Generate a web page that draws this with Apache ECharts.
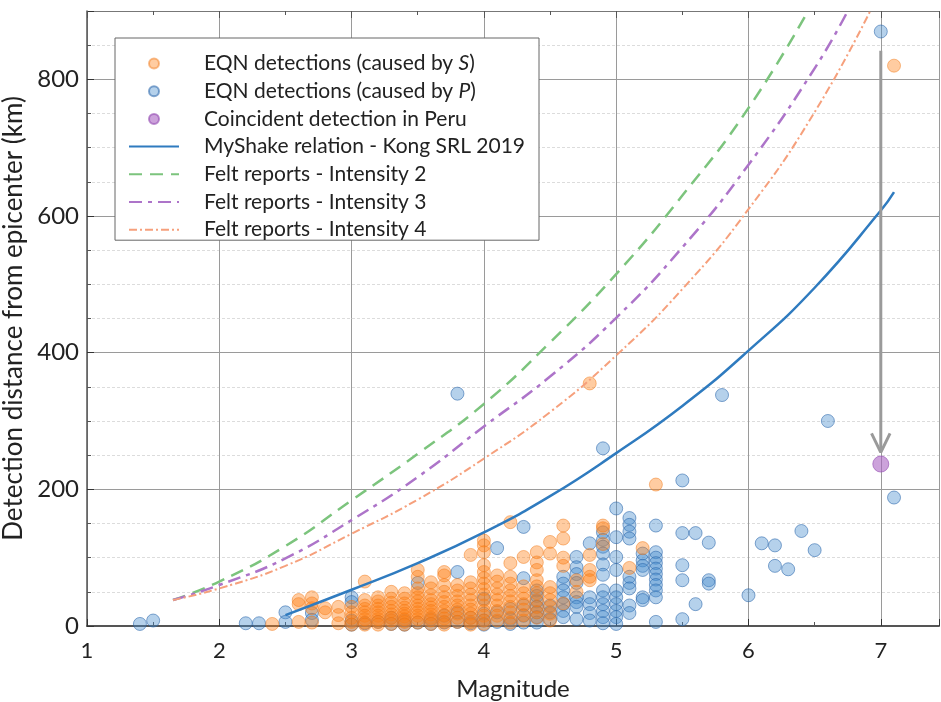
<!DOCTYPE html>
<html>
<head>
<meta charset="utf-8">
<script src="https://cdn.jsdelivr.net/npm/echarts@6/dist/echarts.min.js"></script>
<style>html,body{margin:0;padding:0;background:#fff}#c{width:941px;height:702px}</style>
</head>
<body>
<div id="c"></div>
<script>
// ---- Data ----
const seriesNames = [
  'EQN detections (caused by S)',
  'EQN detections (caused by P)',
  'Coincident detection in Peru',
  'MyShake relation - Kong SRL 2019',
  'Felt reports - Intensity 2',
  'Felt reports - Intensity 3',
  'Felt reports - Intensity 4'
];
const xTicks = [1, 2, 3, 4, 5, 6, 7];
const yTicks = [0, 200, 400, 600, 800];

// S-caused detections: [magnitude, distances...]
const sColumns = [
  [2.4, 3], [2.6, 38, 32, 6], [2.7, 42, 33, 26, 5], [2.8, 26, 20], [2.9, 28, 16, 4],
  [3.0, 28, 20, 12, 6, 2], [3.1, 65, 38, 30, 25, 20, 15, 10, 5, 2],
  [3.2, 42, 36, 30, 25, 20, 15, 10, 6, 2], [3.3, 50, 40, 34, 28, 22, 17, 12, 8, 3],
  [3.4, 48, 40, 33, 27, 22, 18, 14, 10, 6, 2], [3.5, 82, 72, 55, 48, 42, 36, 30, 25, 20, 15, 10, 5],
  [3.6, 64, 55, 45, 38, 32, 27, 22, 17, 12, 8, 3], [3.7, 79, 74, 60, 50, 42, 35, 28, 22, 16, 11, 6, 2],
  [3.8, 60, 52, 44, 36, 30, 24, 18, 12, 6], [3.9, 104, 64, 55, 46, 38, 30, 24, 18, 12, 6, 2],
  [4.0, 125, 118, 108, 89, 79, 70, 62, 54, 46, 38, 30, 22, 15, 8, 3],
  [4.1, 74, 65, 55, 46, 38, 30, 22, 15, 8], [4.2, 152, 92, 72, 62, 52, 44, 36, 28, 20, 12, 5],
  [4.3, 101, 58, 48, 40, 32, 24, 16, 8], [4.4, 108, 93, 82, 67, 58, 48, 38, 28, 20, 12],
  [4.5, 123, 106, 57, 48, 38, 28, 18, 8], [4.6, 147, 128, 100, 88, 33],
  [4.7, 67, 50], [4.8, 355, 104, 82, 72, 67], [4.9, 147, 143, 120],
  [5.1, 85], [5.2, 114], [5.3, 207], [7.1, 820]
];
// P-caused detections
const pColumns = [
  [1.4, 3], [1.5, 8], [2.2, 4], [2.3, 4], [2.5, 20, 6], [2.7, 19, 9],
  [3.0, 42, 35, 8, 2], [3.1, 4], [3.2, 6], [3.3, 12, 3], [3.4, 8, 2], [3.5, 63, 5],
  [3.6, 10, 3], [3.7, 15, 5], [3.8, 340, 79, 20, 6], [3.9, 12, 4], [4.0, 40, 18, 8, 2],
  [4.1, 114, 20, 6], [4.2, 25, 10, 3], [4.3, 145, 70, 30, 15, 5],
  [4.4, 52, 44, 36, 28, 20, 13, 5], [4.5, 30, 20, 10], [4.6, 72, 62, 52, 42, 32, 22, 13],
  [4.7, 101, 86, 76, 63, 42, 35, 28, 10], [4.8, 121, 42, 32, 19, 8],
  [4.9, 260, 137, 126, 116, 106, 90, 75, 52, 42, 32, 22, 13, 4],
  [5.0, 172, 130, 101, 82, 52, 42, 32, 22, 13, 3],
  [5.1, 158, 148, 138, 128, 72, 63, 55, 30, 19], [5.2, 106, 96, 88, 82, 42, 38],
  [5.3, 147, 108, 100, 92, 84, 76, 68, 60, 52, 42, 6],
  [5.5, 213, 136, 89, 67, 10], [5.6, 136, 32], [5.7, 122, 67, 62], [5.8, 338],
  [6.0, 45], [6.1, 121], [6.2, 118, 88], [6.3, 83], [6.4, 139], [6.5, 111], [6.6, 300],
  [7.0, 870], [7.1, 188]
];
const peruPoint = [[7.0, 237]];

const myShakeMag  = [2.5, 3, 3.5, 4, 4.5, 5, 5.5, 6, 6.5, 7, 7.1];
const myShakeDist = [16, 53, 92, 137, 190, 253, 322, 403, 495, 608, 635];
const int2Mag  = [1.65, 2, 2.5, 3, 3.5, 4, 4.5, 5, 5.5, 6, 6.45];
const int2Dist = [38, 65, 117, 184, 252, 325, 415, 515, 630, 758, 900];
const int3Mag  = [1.65, 2, 2.5, 3, 3.5, 4, 4.5, 5, 5.5, 6, 6.5, 6.75];
const int3Dist = [38, 60, 99, 155, 218, 292, 365, 451, 554, 675, 816, 900];
const int4Mag  = [1.65, 2, 2.5, 3, 3.5, 4, 4.5, 5, 5.5, 6, 6.5, 6.92];
const int4Dist = [38, 55, 88, 135, 185, 245, 313, 396, 493, 610, 752, 900];

const arrowShaft = [[7.0, 842], [7.0, 256]];
const arrowHead  = [[6.93, 282], [7.0, 254], [7.07, 282]];

// ---- Build ----
const expand = cols => cols.flatMap(c => c.slice(1).map(d => [c[0], d]));
const zip = (a, b) => a.map((v, i) => [v, b[i]]);
const FONT = 'Lato';

const chart = echarts.init(document.getElementById('c'), null, {renderer: 'canvas'});

const lineLegend = name => ({name: name, itemStyle: {opacity: 0}});

chart.setOption({
  animation: false,
  backgroundColor: '#fff',
  textStyle: {fontFamily: FONT},
  grid: {left: 87, right: 2, top: 11, bottom: 76, containLabel: false, outerBoundsMode: 'none', show: false},
  legend: {
    orient: 'vertical', left: 115, top: 38,
    backgroundColor: '#fff', borderColor: '#666', borderWidth: 1,
    padding: [15, 14, 0, 13],
    itemWidth: 50, itemHeight: 10, itemGap: 6.7,
    data: [
      {name: seriesNames[0]}, {name: seriesNames[1]}, {name: seriesNames[2]},
      lineLegend(seriesNames[3]), lineLegend(seriesNames[4]),
      lineLegend(seriesNames[5]), lineLegend(seriesNames[6])
    ],
    textStyle: {
      fontFamily: FONT, fontSize: 21, color: '#222', lineHeight: 20, padding: [0, 0, 0, 20],
      rich: {n: {fontFamily: FONT, fontSize: 21, color: '#222'}, i: {fontFamily: FONT, fontSize: 21, color: '#222', fontStyle: 'italic'}}
    },
    formatter: name => {
      if (name === seriesNames[0]) return '{n|EQN detections (caused by }{i|S}{n|)}';
      if (name === seriesNames[1]) return '{n|EQN detections (caused by }{i|P}{n|)}';
      return name;
    }
  },
  xAxis: [{
    type: 'value', min: 1, max: 7.44, interval: 1, position: 'bottom',
    name: 'Magnitude', nameLocation: 'middle', nameGap: 51,
    nameTextStyle: {fontFamily: FONT, fontSize: 24, color: '#222'},
    axisLine: {show: true, onZero: false, lineStyle: {color: '#555', width: 2}},
    axisTick: {show: true, inside: true, length: 7, lineStyle: {color: '#333'}},
    minorTick: {show: true, splitNumber: 2, length: 4, lineStyle: {color: '#555'}},
    axisLabel: {fontFamily: FONT, fontSize: 22, color: '#222', margin: 14,
      formatter: v => (xTicks.indexOf(v) >= 0 ? String(v) : '')},
    splitLine: {show: true, lineStyle: {color: '#9a9a9a', width: 1}},
    minorSplitLine: {show: false}
  }, {
    type: 'value', min: 1, max: 7.44, interval: 1, position: 'top',
    axisLine: {show: true, onZero: false, lineStyle: {color: '#777', width: 1}},
    axisTick: {show: true, inside: true, length: 7, lineStyle: {color: '#555'}},
    minorTick: {show: true, splitNumber: 2, length: 4, lineStyle: {color: '#555'}},
    axisLabel: {show: false}, splitLine: {show: false}
  }],
  yAxis: [{
    type: 'value', min: 0, max: 900, interval: 200,
    name: 'Detection distance from epicenter (km)', nameLocation: 'middle', nameGap: 53,
    nameTextStyle: {fontFamily: FONT, fontSize: 26, color: '#222'},
    axisLine: {show: true, onZero: false, lineStyle: {color: '#555', width: 1.5}},
    axisTick: {show: true, inside: true, length: 7, lineStyle: {color: '#333'}},
    minorTick: {show: true, splitNumber: 4, length: 4, lineStyle: {color: '#555'}},
    axisLabel: {fontFamily: FONT, fontSize: 24, color: '#222', margin: 8,
      formatter: v => (yTicks.indexOf(v) >= 0 ? String(v) : '')},
    splitLine: {show: true, lineStyle: {color: '#9a9a9a', width: 1}},
    minorSplitLine: {show: true, lineStyle: {color: '#dcdcdc', width: 1, type: [3, 2]}}
  }],
  series: [
    {
      name: seriesNames[0], type: 'scatter', z: 4, data: expand(sColumns),
      symbolSize: 13,
      itemStyle: {color: 'rgba(255,128,20,0.5)', borderColor: 'rgba(240,120,20,0.6)', borderWidth: 1}
    },
    {
      name: seriesNames[1], type: 'scatter', z: 3, data: expand(pColumns),
      symbolSize: 13,
      itemStyle: {color: 'rgba(70,140,205,0.5)', borderColor: 'rgba(40,100,170,0.7)', borderWidth: 1}
    },
    {
      name: seriesNames[2], type: 'scatter', z: 5, data: peruPoint,
      symbolSize: 16,
      itemStyle: {color: 'rgba(170,100,195,0.75)', borderColor: 'rgba(150,80,180,0.8)', borderWidth: 1}
    },
    {
      name: seriesNames[3], type: 'line', z: 6, data: zip(myShakeMag, myShakeDist), smooth: 0.5,
      showSymbol: false, symbol: 'none', color: '#2f7bbf',
      lineStyle: {color: '#2f7bbf', width: 2.5}
    },
    {
      name: seriesNames[4], type: 'line', z: 6, data: zip(int2Mag, int2Dist), smooth: 0.5,
      showSymbol: false, symbol: 'none', color: '#7cc47d',
      lineStyle: {color: '#7cc47d', width: 2.5, type: [13, 8]}
    },
    {
      name: seriesNames[5], type: 'line', z: 6, data: zip(int3Mag, int3Dist), smooth: 0.5,
      showSymbol: false, symbol: 'none', color: '#ad74c9',
      lineStyle: {color: '#ad74c9', width: 2.5, type: [13, 6, 4, 6]}
    },
    {
      name: seriesNames[6], type: 'line', z: 6, data: zip(int4Mag, int4Dist), smooth: 0.5,
      showSymbol: false, symbol: 'none', color: '#f6a07c',
      lineStyle: {color: '#f6a07c', width: 2, type: [8, 3, 2, 3]}
    },
    {
      name: 'arrowShaft', type: 'line', z: 7, data: arrowShaft, symbol: 'none', silent: true,
      lineStyle: {color: '#9a9a9a', width: 3}
    },
    {
      name: 'arrowHead', type: 'line', z: 7, data: arrowHead, symbol: 'none', silent: true,
      lineStyle: {color: '#9a9a9a', width: 3}
    }
  ]
});
</script>
</body>
</html>
